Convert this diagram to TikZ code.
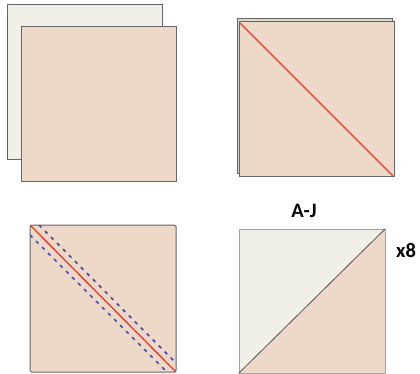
\documentclass[tikz,border=0pt]{standalone}
\usepackage{fontspec}
\setmainfont{Carlito}
\definecolor{cream}{HTML}{F0F0E8}
\definecolor{peach}{HTML}{EED9C8}
\definecolor{edge}{HTML}{666666}
\definecolor{redline}{HTML}{E8392A}
\definecolor{blueline}{HTML}{4A4AA8}
\begin{document}
\begin{tikzpicture}[x=1pt,y=-1pt,
  sq/.style={draw=edge,line width=1pt},
  cut/.style={draw=redline,line width=1.3pt},
  seam/.style={draw=blueline,line width=1.7pt,dash pattern=on 3.5pt off 5pt},
  lbl/.style={font=\bfseries\fontsize{20.5}{22}\selectfont,inner sep=0pt}]
\useasboundingbox (0,0) rectangle (420,374);
% panel 1
\filldraw[sq,fill=cream] (7,5) rectangle (162,160);
\filldraw[sq,fill=peach] (21,27) rectangle (176,182);
% panel 2
\filldraw[sq,fill=cream!80!gray] (237,19) rectangle (392,174);
\filldraw[sq,fill=peach] (239,22) rectangle (394,177);
\coordinate (p2a) at (240,23);
\coordinate (p2b) at (393,176);
\draw[cut] (p2a) -- (p2b);
% panel 3
\filldraw[sq,fill=peach,rounded corners=1.5pt] (30,225) rectangle (176,372);
\begin{scope}
\clip (30,225) rectangle (176,372);
\coordinate (p3a) at (30,225);
\coordinate (p3b) at (176,372);
\coordinate (u1) at (39,225);
\coordinate (u2) at (176,363);
\coordinate (l1) at (30,235);
\coordinate (l2) at (167,372);
\draw[seam] (u1) -- (u2);
\draw[seam] (l1) -- (l2);
\draw[cut] (p3a) -- (p3b);
\end{scope}
% panel 4
\coordinate (q1) at (239,229);
\coordinate (q2) at (385,229);
\coordinate (q3) at (385,373);
\coordinate (q4) at (239,373);
\fill[cream] (q1) -- (q2) -- (q4) -- cycle;
\fill[peach] (q2) -- (q3) -- (q4) -- cycle;
\draw[draw=edge!60!white,line width=1pt] (q1) rectangle (q3);
\draw[draw=edge!80!black,line width=0.8pt] (q4) -- (q2);
\node[lbl] (aj) at (304,211) {A-J};
\node[lbl] (x8) at (406,250) {x8};
\end{tikzpicture}
\end{document}
